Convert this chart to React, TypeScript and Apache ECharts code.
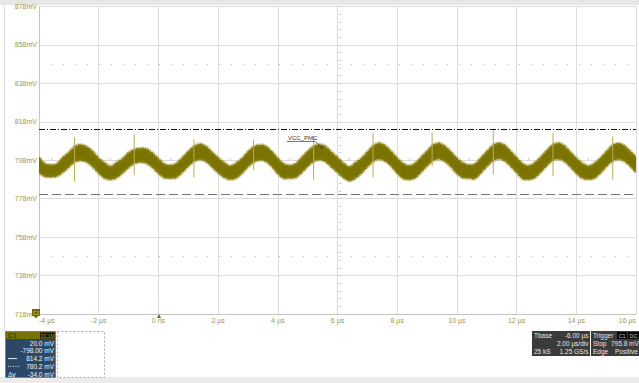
import React, { useEffect, useRef } from 'react';
import * as echarts from 'echarts';

// ---- scope settings / axis values ----
const OFFSET_MV = 798; // channel offset (-798.00 mV) = screen centre
const xTicksUs = [-4, -2, 0, 2, 4, 6, 8, 10, 12, 14, 16];
const yTicksMv = [718, 738, 758, 778, 798, 818, 838, 858, 878];
const xMinorStepUs = 0.4;
const yMinorStepMv = 4;

const SAMPLE_START_US = -4;
const SAMPLE_STEP_US = 0.2;
const upperMv = [
  799.4, 796.2, 795.6, 796.1, 799.5, 802.0, 805.2, 806.1, 805.0, 802.6,
  799.0, 796.6, 794.8, 796.8, 798.8, 801.9, 803.6, 804.2, 803.9, 801.8,
  798.9, 796.0, 795.4, 796.3, 799.3, 802.6, 805.3, 806.4, 805.1, 802.1,
  799.3, 796.8, 795.0, 796.5, 798.9, 802.4, 805.0, 805.9, 805.3, 802.5,
  799.0, 796.1, 795.3, 796.2, 799.4, 802.7, 805.3, 806.2, 805.2, 802.2,
  799.5, 796.5, 794.6, 796.7, 799.0, 802.3, 805.6, 806.9, 805.6, 802.6,
  799.2, 796.3, 795.1, 796.4, 799.6, 802.8, 805.9, 806.9, 805.3, 802.4,
  799.0, 796.7, 795.5, 796.0, 799.2, 802.5, 805.7, 807.0, 805.8, 802.7,
  799.4, 796.2, 795.1, 796.6, 799.5, 802.9, 805.9, 806.9, 805.6, 802.3,
  799.1, 796.5, 795.0, 796.3, 799.0, 802.4, 805.6, 806.8, 805.7, 802.8,
  799.6,
];
const lowerMv = [
  791.6, 789.5, 789.3, 789.7, 791.8, 794.5, 797.2, 797.9, 797.1, 794.6,
  791.3, 788.7, 788.0, 788.9, 791.4, 794.2, 796.4, 797.0, 796.5, 794.3,
  791.2, 788.9, 788.6, 789.0, 791.7, 794.9, 797.5, 798.4, 797.2, 794.5,
  791.5, 789.1, 788.0, 788.7, 791.2, 794.6, 797.1, 798.1, 797.4, 794.8,
  791.0, 788.6, 788.7, 789.0, 791.6, 794.8, 797.4, 798.3, 797.2, 794.4,
  791.7, 788.9, 787.3, 788.6, 791.3, 794.5, 797.6, 798.6, 797.5, 794.9,
  791.3, 788.5, 788.0, 788.8, 791.8, 795.0, 797.8, 798.7, 797.3, 794.6,
  791.1, 788.9, 788.7, 788.4, 791.3, 794.7, 797.6, 798.8, 797.7, 794.9,
  791.6, 788.4, 788.0, 788.8, 791.6, 795.0, 797.9, 798.6, 797.5, 794.5,
  791.3, 788.7, 788.1, 788.6, 791.2, 794.6, 797.5, 798.5, 797.6, 795.0,
  791.8,
];

// switching spikes
const spikeTimesUs = [-2.81, -0.81, 1.19, 3.19, 5.2, 7.19, 9.17, 11.22, 13.22, 15.22];
const spikeHighMv = [809.9, 811.6, 808.7, 808.7, 810.4, 812.3, 812.3, 814.4, 812.3, 810.4];
const spikeLowMv = [787.0, 790.6, 789.1, 793.0, 788.0, 789.1, 795.0, 790.6, 789.7, 788.0];

// cursors & graticule dots
const cursorAMv = 814.2;
const cursorBMv = 780.2;
const graticuleDotRowsMv = [848, 748];

// texts
const traceName = 'VCC_PMC';
const channelRows = ['20.0 mV', '-798.00 mV', '814.2 mV', '780.2 mV', '-34.0 mV'];
const tbaseRows = [['Tbase', '-6.00 µs'], ['', '2.00 µs/div'], ['25 kS', '1.25 GS/s']];
const triggerRows = [['Trigger', ''], ['Stop', '795.8 mV'], ['Edge', 'Positive']];

const FONT = "'Liberation Sans', Arial, sans-serif";
const OLIVE = '#7b7300';
const LABEL = '#a39548';

const rel = (mv: number) => +(mv - OFFSET_MV).toFixed(3);
const tOf = (i: number) => +(SAMPLE_START_US + i * SAMPLE_STEP_US).toFixed(3);

function txt(x: number, y: number, text: string, fill: string, size: number, align = 'left', extra: any = {}) {
  return {
    type: 'text', x, y, silent: true, z: 100,
    style: { text, fill, fontSize: size, fontFamily: FONT, textAlign: align, textVerticalAlign: 'middle', ...extra },
  };
}

export default function App() {
  const ref = useRef<HTMLDivElement>(null);
  useEffect(() => {
    if (!ref.current) return;
    const chart = echarts.init(ref.current, undefined, { renderer: 'svg' });

    const rowY = [343, 350.8, 358.6, 366.4, 374];
    const graphic: any[] = [
      { type: 'rect', shape: { x: 0, y: 0, width: 639, height: 5 }, style: { fill: '#e6e6e6' }, silent: true },
      { type: 'rect', shape: { x: 0, y: 377, width: 639, height: 6 }, style: { fill: '#ececec' }, silent: true, z: 0 },
      { type: 'line', shape: { x1: 4.5, y1: 5, x2: 4.5, y2: 331 }, style: { stroke: '#dedede', lineWidth: 1 }, silent: true },
      // trace annotation
      txt(288, 137.5, traceName, '#333', 6),
      { type: 'line', shape: { x1: 287, y1: 141.5, x2: 315, y2: 141.5 }, style: { stroke: '#555', lineWidth: 0.8 }, silent: true, z: 100 },
      { type: 'line', shape: { x1: 315, y1: 141.5, x2: 322, y2: 148 }, style: { stroke: '#555', lineWidth: 0.8 }, silent: true, z: 100 },
      { type: 'polygon', shape: { points: [[323, 149], [319.5, 147.5], [321.5, 145.5]] }, style: { fill: '#444' }, silent: true, z: 100 },
      // channel ground marker & trigger marker
      { type: 'rect', shape: { x: 32, y: 309, width: 8, height: 7 }, style: { fill: '#6f6800' }, silent: true, z: 100 },
      txt(36, 312.5, 'C1', '#d8cf70', 5, 'center'),
      { type: 'polygon', shape: { points: [[34, 316], [38, 316], [36, 318.5]] }, style: { fill: '#6f6800' }, silent: true, z: 100 },
      { type: 'polygon', shape: { points: [[157, 318], [161, 318], [159, 314]] }, style: { fill: '#6f6800' }, silent: true, z: 100 },
      // channel descriptor box
      { type: 'rect', shape: { x: 5.5, y: 331.5, width: 50, height: 46 }, style: { fill: '#2c4866', stroke: '#3d8fda', lineWidth: 1 }, silent: true, z: 90 },
      { type: 'rect', shape: { x: 6, y: 332, width: 49, height: 7 }, style: { fill: '#7a7200' }, silent: true, z: 95 },
      txt(8, 335.5, 'C1', '#2b2800', 7),
      { type: 'rect', shape: { x: 40, y: 332.5, width: 15, height: 6 }, style: { fill: '#111' }, silent: true, z: 96 },
      txt(47.5, 335.5, 'DC1M', '#a59a3a', 5, 'center'),
      ...channelRows.map((r, i) => txt(54, rowY[i], r, '#f2f2f2', 6.5, 'right')),
      { type: 'line', shape: { x1: 8, y1: rowY[2], x2: 17, y2: rowY[2] }, style: { stroke: '#e8e8e8', lineWidth: 1 }, silent: true, z: 100 },
      { type: 'line', shape: { x1: 8, y1: rowY[3], x2: 20, y2: rowY[3] }, style: { stroke: '#e8e8e8', lineWidth: 1, lineDash: [1, 1.5] }, silent: true, z: 100 },
      txt(8, rowY[4], 'Δy', '#f2f2f2', 6.5),
      { type: 'rect', shape: { x: 57.5, y: 331.5, width: 47, height: 46 }, style: { fill: '#fff', stroke: '#a8a8a8', lineWidth: 1, lineDash: [2, 2] }, silent: true, z: 90 },
      // timebase box
      { type: 'rect', shape: { x: 532, y: 331, width: 58, height: 25 }, style: { fill: '#3b3b3b' }, silent: true, z: 90 },
      ...tbaseRows.flatMap((r, i) => [
        txt(534, 335.5 + i * 8, r[0], '#e4e4e4', 6.5),
        txt(588.5, 335.5 + i * 8, r[1], '#e4e4e4', 6.5, 'right'),
      ]),
      // trigger box
      { type: 'rect', shape: { x: 591, y: 331, width: 48, height: 25 }, style: { fill: '#3b3b3b' }, silent: true, z: 90 },
      ...triggerRows.flatMap((r, i) => [
        txt(593, 335.5 + i * 8, r[0], '#e4e4e4', 6.5),
        txt(i === 2 ? 615 : 611, 335.5 + i * 8, r[1], '#e4e4e4', 6.5),
      ]),
      { type: 'rect', shape: { x: 617, y: 332, width: 10, height: 7 }, style: { fill: '#000' }, silent: true, z: 96 },
      txt(622, 335.5, 'C1', '#c8c8c8', 5.5, 'center'),
      { type: 'rect', shape: { x: 628, y: 332, width: 11, height: 7 }, style: { fill: '#000' }, silent: true, z: 96 },
      txt(633.5, 335.5, 'DC', '#c8c8c8', 5.5, 'center'),
    ];

    const hLine = (mv: number, color: string, type: any, width = 1) => ({
      yAxis: rel(mv),
      lineStyle: { color, type, width },
    });

    const option: any = {
      animation: false,
      backgroundColor: '#ffffff',
      textStyle: { fontFamily: FONT },
      grid: { left: 39, top: 6.5, width: 599, height: 307.5, containLabel: false },
      xAxis: [
        {
          type: 'value',
          min: xTicksUs[0],
          max: xTicksUs[xTicksUs.length - 1],
          interval: xTicksUs[1] - xTicksUs[0],
          axisLine: { show: true, onZero: false, lineStyle: { color: '#c4c4c4', width: 1 } },
          axisTick: { show: false },
          splitLine: { show: true, lineStyle: { color: '#dcdcdc', width: 1 } },
          axisLabel: {
            color: LABEL, fontSize: 7, fontFamily: FONT, margin: 3,
            alignMinLabel: 'left', alignMaxLabel: 'right',
            formatter: (v: number) => (v === 0 ? '0 ns' : `${v} µs`),
          },
        },
        {
          type: 'value',
          min: xTicksUs[0],
          max: xTicksUs[xTicksUs.length - 1],
          interval: xMinorStepUs,
          position: 'bottom',
          axisLine: { show: false, onZero: true },
          axisTick: { show: true, inside: true, length: 2, lineStyle: { color: '#c8c8c8' } },
          axisLabel: { show: false },
          splitLine: { show: false },
        },
      ],
      yAxis: [
        {
          type: 'value',
          min: rel(yTicksMv[0]),
          max: rel(yTicksMv[yTicksMv.length - 1]),
          interval: yTicksMv[1] - yTicksMv[0],
          axisLine: { show: true, onZero: false, lineStyle: { color: '#c4c4c4', width: 1 } },
          axisTick: { show: false },
          splitLine: { show: true, lineStyle: { color: '#dcdcdc', width: 1 } },
          axisLabel: {
            color: LABEL, fontSize: 7, fontFamily: FONT, margin: 2,
            formatter: (v: number) => `${Math.round(v + OFFSET_MV)}mV`,
          },
        },
        {
          type: 'value',
          min: rel(yTicksMv[0]),
          max: rel(yTicksMv[yTicksMv.length - 1]),
          interval: yMinorStepMv,
          position: 'left',
          offset: -300,
          axisLine: { show: false, onZero: false },
          axisTick: { show: true, inside: true, length: 2, lineStyle: { color: '#c8c8c8' } },
          axisLabel: { show: false },
          splitLine: { show: false },
        },
      ],
      graphic,
      series: [
        {
          type: 'line',
          data: [],
          silent: true,
          markLine: {
            silent: true,
            symbol: 'none',
            label: { show: false },
            data: [
              hLine(cursorAMv, '#111111', [6, 2, 1, 2]),
              hLine(cursorBMv, '#777777', [9, 4]),
              ...graticuleDotRowsMv.map((mv) => hLine(mv, '#bdbdbd', [1, 11])),
            ],
          },
        },
        {
          type: 'custom',
          coordinateSystem: 'cartesian2d',
          silent: true,
          clip: true,
          z: 3,
          data: [[6, 0]],
          renderItem: (_params: any, api: any) => {
            const top = upperMv.map((v, i) => api.coord([tOf(i), rel(v)]));
            const bot = lowerMv.map((v, i) => api.coord([tOf(i), rel(v)]));
            const poly = top.concat(bot.slice().reverse());
            const edge = (pts: any) => [
              { type: 'polyline', shape: { points: pts, smooth: 0.3 }, style: { fill: null, stroke: 'rgba(150,140,30,0.35)', lineWidth: 3.6 } },
              { type: 'polyline', shape: { points: pts, smooth: 0.3 }, style: { fill: null, stroke: 'rgba(125,116,5,0.75)', lineWidth: 1.6, lineDash: [2, 1, 1, 1.5] } },
            ];
            return {
              type: 'group',
              children: [
                { type: 'polygon', shape: { points: poly, smooth: 0.3 }, style: { fill: OLIVE } },
                ...edge(top),
                ...edge(bot),
              ],
            };
          },
        },
        {
          type: 'custom',
          coordinateSystem: 'cartesian2d',
          silent: true,
          clip: true,
          z: 4,
          encode: { x: 0, y: [1, 2] },
          data: spikeTimesUs.map((t, i) => [t, rel(spikeLowMv[i]), rel(spikeHighMv[i])]),
          renderItem: (_params: any, api: any) => {
            const p1 = api.coord([api.value(0), api.value(1)]);
            const p2 = api.coord([api.value(0), api.value(2)]);
            return {
              type: 'line',
              shape: { x1: p1[0], y1: p1[1], x2: p2[0], y2: p2[1] },
              style: { stroke: '#b8ad58', lineWidth: 1 },
            };
          },
        },
      ],
    };

    chart.setOption(option);
    return () => chart.dispose();
  }, []);

  return (
    <div
      ref={ref}
      style={{ position: 'absolute', left: 0, top: 0, width: 639, height: 383, background: '#fff' }}
    />
  );
}
